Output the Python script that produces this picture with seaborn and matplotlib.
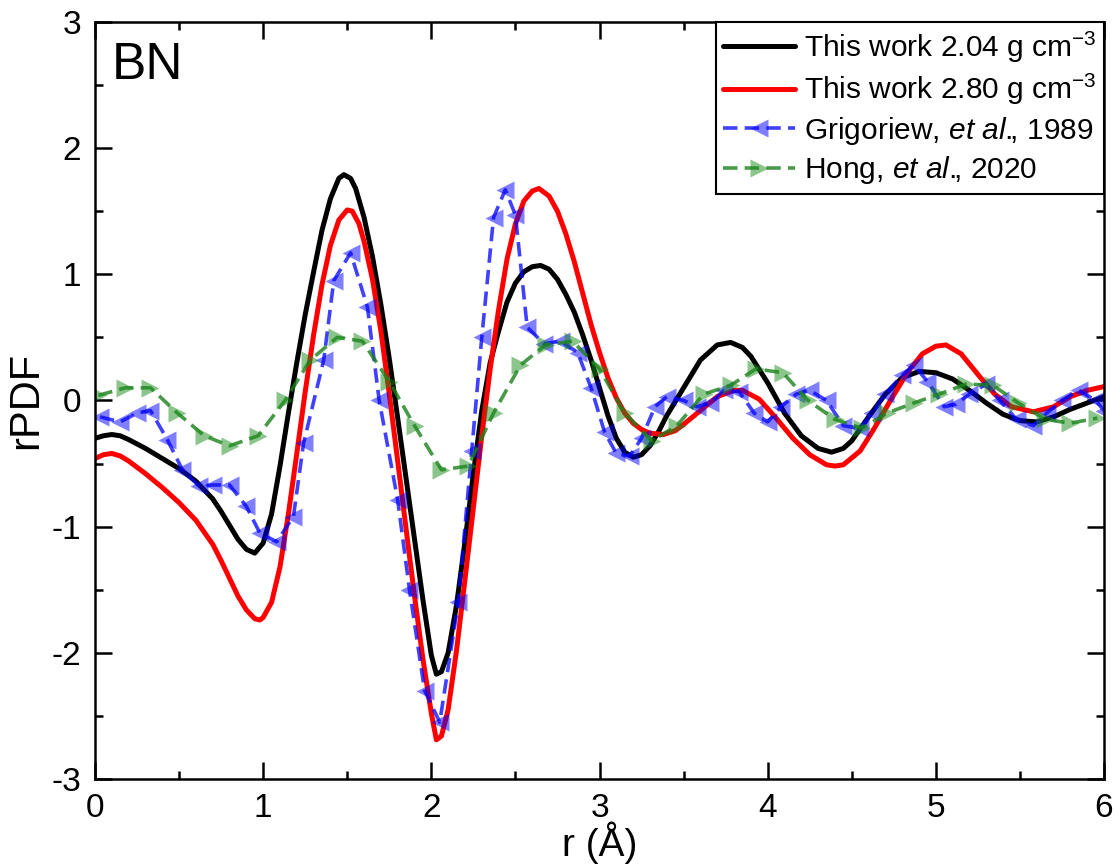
import numpy as np
import pandas as pd
import seaborn as sns
import matplotlib.pyplot as plt

# This work 2.04 g/cm3
r_black = [0.0, 0.05, 0.1, 0.15, 0.2, 0.3, 0.4, 0.5, 0.6, 0.7, 0.75, 0.8, 0.85, 0.9, 0.95, 1.0, 1.05, 1.1,
           1.15, 1.2, 1.25, 1.3, 1.35, 1.4, 1.45, 1.48, 1.52, 1.55, 1.6, 1.65, 1.7, 1.75, 1.8, 1.85, 1.9,
           1.95, 2.0, 2.03, 2.06, 2.1, 2.15, 2.2, 2.25, 2.3, 2.35, 2.4, 2.45, 2.5, 2.55, 2.6, 2.65, 2.7,
           2.75, 2.8, 2.85, 2.9, 2.95, 3.0, 3.05, 3.1, 3.15, 3.2, 3.25, 3.3, 3.35, 3.4, 3.5, 3.6, 3.7, 3.78,
           3.85, 3.9, 4.0, 4.1, 4.2, 4.3, 4.38, 4.45, 4.5, 4.6, 4.7, 4.8, 4.9, 5.0, 5.1, 5.2, 5.3, 5.4, 5.5,
           5.6, 5.7, 5.8, 5.9, 6.0]
g_black = [-0.30, -0.28, -0.27, -0.28, -0.31, -0.38, -0.46, -0.54, -0.64, -0.78, -0.88, -0.99, -1.10, -1.18,
           -1.21, -1.13, -0.90, -0.52, -0.10, 0.30, 0.68, 1.02, 1.35, 1.60, 1.76, 1.79, 1.76, 1.68, 1.45,
           1.14, 0.76, 0.33, -0.14, -0.62, -1.10, -1.58, -2.02, -2.17, -2.15, -2.00, -1.62, -1.12, -0.58,
           -0.08, 0.30, 0.55, 0.78, 0.93, 1.02, 1.06, 1.07, 1.04, 0.96, 0.84, 0.70, 0.52, 0.32, 0.10, -0.12,
           -0.30, -0.41, -0.45, -0.43, -0.36, -0.25, -0.12, 0.10, 0.32, 0.44, 0.46, 0.42, 0.35, 0.14, -0.10,
           -0.28, -0.38, -0.41, -0.38, -0.32, -0.13, 0.05, 0.18, 0.23, 0.22, 0.17, 0.08, -0.02, -0.11, -0.16,
           -0.17, -0.13, -0.07, -0.02, 0.03]

# This work 2.80 g/cm3
r_red = [0.0, 0.05, 0.1, 0.15, 0.2, 0.3, 0.4, 0.5, 0.6, 0.7, 0.75, 0.8, 0.85, 0.9, 0.95, 0.98, 1.0, 1.05,
         1.1, 1.15, 1.2, 1.25, 1.3, 1.35, 1.4, 1.45, 1.5, 1.53, 1.57, 1.6, 1.65, 1.7, 1.75, 1.8, 1.85, 1.9,
         1.95, 2.0, 2.03, 2.06, 2.1, 2.15, 2.2, 2.25, 2.3, 2.35, 2.4, 2.45, 2.5, 2.55, 2.6, 2.64, 2.7, 2.75,
         2.8, 2.85, 2.9, 2.95, 3.0, 3.05, 3.1, 3.15, 3.2, 3.25, 3.3, 3.38, 3.45, 3.5, 3.6, 3.7, 3.8, 3.85,
         3.95, 4.05, 4.15, 4.25, 4.35, 4.4, 4.45, 4.55, 4.63, 4.73, 4.83, 4.92, 5.0, 5.06, 5.15, 5.26, 5.35,
         5.45, 5.58, 5.7, 5.8, 5.9, 6.0]
g_red = [-0.46, -0.43, -0.42, -0.44, -0.48, -0.58, -0.69, -0.81, -0.95, -1.14, -1.27, -1.41, -1.55, -1.66,
         -1.73, -1.74, -1.72, -1.60, -1.32, -0.90, -0.42, 0.07, 0.52, 0.92, 1.23, 1.43, 1.51, 1.50, 1.40,
         1.26, 0.96, 0.55, 0.05, -0.48, -1.02, -1.55, -2.05, -2.48, -2.69, -2.66, -2.45, -1.98, -1.42, -0.85,
         -0.28, 0.25, 0.72, 1.12, 1.40, 1.58, 1.66, 1.68, 1.62, 1.50, 1.32, 1.10, 0.85, 0.60, 0.38, 0.18,
         0.02, -0.10, -0.18, -0.23, -0.26, -0.27, -0.24, -0.19, -0.08, 0.03, 0.08, 0.08, 0.01, -0.14, -0.30,
         -0.43, -0.51, -0.52, -0.51, -0.40, -0.23, 0.00, 0.22, 0.37, 0.43, 0.44, 0.37, 0.19, 0.05, -0.05,
         -0.09, -0.05, 0.03, 0.08, 0.11]

# Grigoriew et al., 1989
r_blue = [0.03, 0.15, 0.25, 0.33, 0.43, 0.52, 0.62, 0.70, 0.80, 0.90, 0.98, 1.08, 1.18, 1.24, 1.36, 1.42,
          1.52, 1.62, 1.69, 1.80, 1.87, 1.96, 2.05, 2.16, 2.24, 2.30, 2.37, 2.44, 2.50, 2.57, 2.67, 2.77,
          2.87, 2.95, 3.03, 3.10, 3.18, 3.25, 3.33, 3.40, 3.50, 3.58, 3.66, 3.74, 3.83, 3.92, 4.00, 4.08,
          4.17, 4.25, 4.35, 4.45, 4.55, 4.62, 4.70, 4.80, 4.87, 4.95, 5.05, 5.12, 5.20, 5.30, 5.38, 5.48,
          5.58, 5.66, 5.75, 5.85, 5.95, 6.00]
g_blue = [-0.13, -0.17, -0.10, -0.08, -0.31, -0.55, -0.68, -0.67, -0.67, -0.84, -1.05, -1.12, -0.92, -0.34,
          0.32, 0.95, 1.17, 0.74, 0.00, -0.79, -1.50, -2.30, -2.55, -1.60, -0.40, 0.50, 1.45, 1.67, 1.47,
          0.58, 0.45, 0.47, 0.38, 0.10, -0.25, -0.42, -0.44, -0.30, -0.05, 0.03, 0.00, -0.05, -0.02, 0.08,
          0.07, -0.10, -0.17, -0.05, 0.05, 0.08, 0.00, -0.20, -0.22, -0.10, 0.05, 0.20, 0.28, 0.15, -0.05,
          -0.03, 0.05, 0.13, 0.00, -0.15, -0.20, -0.10, 0.00, 0.08, 0.00, -0.08]

# Hong et al., 2020
r_green = [0.02, 0.18, 0.33, 0.49, 0.65, 0.80, 0.97, 1.13, 1.28, 1.44, 1.59, 1.75, 1.90, 2.06, 2.22, 2.37,
           2.53, 2.68, 2.84, 3.00, 3.15, 3.31, 3.46, 3.62, 3.78, 3.93, 4.09, 4.24, 4.40, 4.56, 4.71, 4.87,
           5.02, 5.18, 5.34, 5.49, 5.65, 5.80, 5.96]
g_green = [0.04, 0.10, 0.10, -0.10, -0.28, -0.36, -0.28, 0.00, 0.32, 0.50, 0.47, 0.15, -0.20, -0.55, -0.52,
           -0.10, 0.28, 0.44, 0.47, 0.25, -0.10, -0.32, -0.20, 0.05, 0.12, 0.25, 0.22, 0.00, -0.15, -0.22,
           -0.10, -0.02, 0.05, 0.13, 0.12, -0.02, -0.15, -0.18, -0.14]

sns.set_style('ticks')
plt.rcParams['font.family'] = ['Liberation Sans', 'DejaVu Sans']
plt.rcParams['mathtext.fontset'] = 'custom'
plt.rcParams['mathtext.rm'] = 'Liberation Sans'
plt.rcParams['mathtext.it'] = 'Liberation Sans:italic'
plt.rcParams['axes.unicode_minus'] = False
for k in ['text.color', 'axes.labelcolor', 'xtick.color', 'ytick.color', 'axes.edgecolor']:
    plt.rcParams[k] = 'black'

fig = plt.figure(figsize=(11.19, 8.68), dpi=100)
ax = fig.add_axes([0.0849, 0.1026, 0.9017, 0.8721])

blue_c = (0.0, 0.0, 1.0, 0.5)
green_c = (0.1, 0.55, 0.1, 0.5)

sns.lineplot(x=r_black, y=g_black, ax=ax, color='black', lw=3.6, sort=False,
             label='This work 2.04 g cm$^{-3}$')
sns.lineplot(x=r_red, y=g_red, ax=ax, color='#ff0000', lw=3.6, sort=False,
             label='This work 2.80 g cm$^{-3}$')
sns.lineplot(x=r_blue, y=g_blue, ax=ax, color=(0.0, 0.0, 1.0, 0.75), lw=2.6, ls=(0, (4, 2)), sort=False,
             marker='<', ms=13, mfc=blue_c, mec='none',
             label='Grigoriew, $\\mathit{et\\ al.}\\!\\!$, 1989')
sns.lineplot(x=r_green, y=g_green, ax=ax, color=(0.1, 0.5, 0.1, 0.8), lw=2.6, ls=(0, (4, 2)), sort=False,
             marker='>', ms=13, mfc=green_c, mec='none',
             label='Hong, $\\mathit{et\\ al.}\\!\\!$, 2020')

ax.set_xlim(0, 6)
ax.set_ylim(-3, 3)
ax.set_xticks(np.arange(0, 7, 1))
ax.set_yticks(np.arange(-3, 4, 1))
ax.set_xticks(np.arange(0.5, 6, 1), minor=True)
ax.set_yticks(np.arange(-2.5, 3, 1), minor=True)
ax.tick_params(which='both', direction='in', top=True, right=True, width=1.8, labelsize=24, pad=10)
ax.tick_params(which='major', length=12)
ax.tick_params(which='minor', length=6)
for s in ax.spines.values():
    s.set_linewidth(1.8)
    s.set_color('black')

ax.set_xlabel('r (Å)', fontsize=28, labelpad=-2)
ax.set_ylabel('rPDF', fontsize=30, labelpad=4)
ax.text(0.017, 0.975, 'BN', transform=ax.transAxes, fontsize=37, va='top', ha='left')

leg = ax.legend(loc='upper right', fontsize=21.5, frameon=True, fancybox=False, borderaxespad=0,
                handlelength=2.4, labelspacing=0.25, borderpad=0.25, handletextpad=0.3)
leg.get_frame().set_edgecolor('black')
leg.get_frame().set_linewidth(1.5)
leg.get_frame().set_alpha(1)

fig.savefig('out.png', dpi=100)
